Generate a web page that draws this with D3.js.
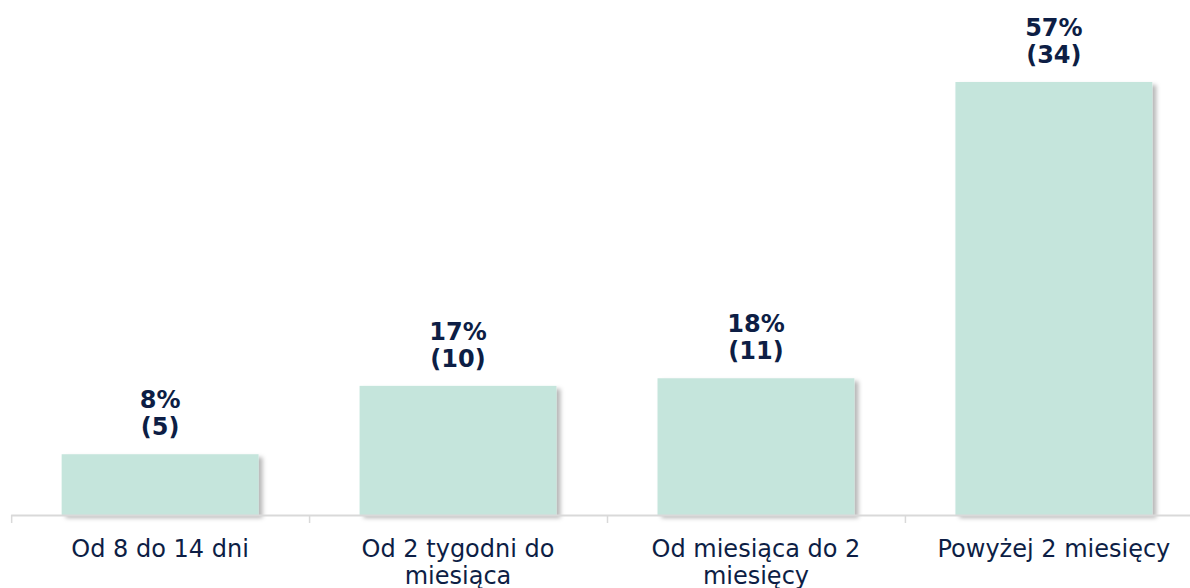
<!DOCTYPE html>
<html>
<head>
<meta charset="utf-8">
<script src="https://cdn.jsdelivr.net/npm/d3@7"></script>
<style>
  body { margin: 0; background: #fff; }
  text { font-family: "DejaVu Sans", Verdana, sans-serif; }
</style>
</head>
<body>
<div id="chart"></div>
<script>
// dane
const categories = ["Od 8 do 14 dni", "Od 2 tygodni do miesiąca", "Od miesiąca do 2 miesięcy", "Powyżej 2 miesięcy"];
const percents = [8, 17, 18, 57];
const counts = [5, 10, 11, 34];

const width = 1190, height = 588;
const navy = "#0d1e45";

const svg = d3.select("#chart").append("svg")
    .attr("width", width)
    .attr("height", height);

// cień słupków
const defs = svg.append("defs");
defs.append("filter")
    .attr("id", "shadow")
    .attr("x", "-10%").attr("y", "-10%")
    .attr("width", "130%").attr("height", "130%")
  .append("feDropShadow")
    .attr("dx", 4).attr("dy", 3)
    .attr("stdDeviation", 2)
    .attr("flood-color", "#000")
    .attr("flood-opacity", 0.28);

const x = d3.scaleBand()
    .domain(categories)
    .range([11, 1203])
    .paddingInner(0.339)
    .paddingOuter(0.17);

const y = d3.scaleLinear()
    .domain([0, d3.max(percents)])
    .range([515, 82]);

const data = categories.map((c, i) => ({ cat: c, pct: percents[i], n: counts[i] }));

// słupki
svg.append("g").selectAll("rect")
    .data(data)
    .enter()
    .append("rect")
    .attr("x", d => x(d.cat))
    .attr("y", d => y(d.pct))
    .attr("width", x.bandwidth())
    .attr("height", d => y(0) - y(d.pct))
    .attr("fill", "#c5e5dc")
    .attr("filter", "url(#shadow)");

// oś X
const step = x.step();
const bounds = categories.map(c => x(c) - step * x.paddingInner() / 2);
bounds.push(bounds[bounds.length - 1] + step);

const axis = svg.append("g");
axis.append("line")
    .attr("x1", bounds[0]).attr("x2", width)
    .attr("y1", y(0) + 0.5).attr("y2", y(0) + 0.5)
    .attr("stroke", "#d9d9d9")
    .attr("stroke-width", 2);
axis.selectAll("line.tick")
    .data(bounds)
    .enter()
    .append("line")
    .attr("class", "tick")
    .attr("x1", d => d + 0.5).attr("x2", d => d + 0.5)
    .attr("y1", y(0)).attr("y2", y(0) + 8)
    .attr("stroke", "#d9d9d9")
    .attr("stroke-width", 1.5);

// etykiety wartości
const labels = svg.append("g").selectAll("text")
    .data(data)
    .enter()
    .append("text")
    .attr("text-anchor", "middle")
    .attr("font-size", 24)
    .attr("font-weight", "bold")
    .attr("fill", navy);
labels.append("tspan")
    .attr("x", d => x(d.cat) + x.bandwidth() / 2)
    .attr("y", d => y(d.pct) - 46)
    .text(d => d.pct + "%");
labels.append("tspan")
    .attr("x", d => x(d.cat) + x.bandwidth() / 2)
    .attr("y", d => y(d.pct) - 19)
    .text(d => "(" + d.n + ")");

// etykiety kategorii (zawijanie)
const catText = svg.append("g").selectAll("text")
    .data(data)
    .enter()
    .append("text")
    .attr("text-anchor", "middle")
    .attr("font-size", 24)
    .attr("fill", navy)
    .attr("x", d => x(d.cat) + x.bandwidth() / 2)
    .attr("y", 557);

catText.each(function (d) {
    const t = d3.select(this);
    const words = d.cat.split(" ");
    const cx = x(d.cat) + x.bandwidth() / 2;
    let line = [];
    let tspan = t.append("tspan").attr("x", cx).attr("dy", 0);
    words.forEach(w => {
        line.push(w);
        tspan.text(line.join(" "));
        if (tspan.node().getComputedTextLength() > 270 && line.length > 1) {
            line.pop();
            tspan.text(line.join(" "));
            line = [w];
            tspan = t.append("tspan").attr("x", cx).attr("dy", 27).text(w);
        }
    });
});
</script>
</body>
</html>
